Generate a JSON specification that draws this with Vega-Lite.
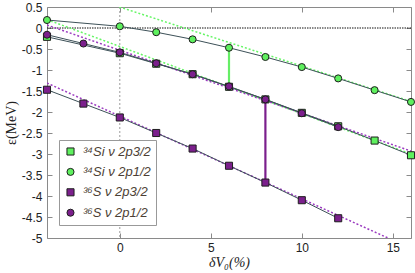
{
  "$schema": "https://vega.github.io/schema/vega-lite/v6.json",
  "width": 364,
  "height": 231,
  "autosize": {"type": "none"},
  "padding": {"left": 47, "top": 7, "right": 4, "bottom": 35},
  "background": "white",
  "config": {
    "view": {"stroke": "#8a8a8a", "strokeWidth": 1},
    "axis": {
      "labelFont": "Liberation Sans",
      "labelFontSize": 12,
      "labelColor": "#222222",
      "titleFont": "Liberation Serif",
      "titleFontSize": 14,
      "titleFontWeight": "normal",
      "titleColor": "#222222",
      "domain": false,
      "grid": false,
      "tickColor": "#8a8a8a",
      "tickSize": -5,
      "tickWidth": 1
    }
  },
  "datasets": {
    "pts": [
      {"series": "³⁴Si ν 2p3/2", "x": -4, "y": -0.21},
      {"series": "³⁴Si ν 2p3/2", "x": 0, "y": -0.6},
      {"series": "³⁴Si ν 2p3/2", "x": 2, "y": -0.85},
      {"series": "³⁴Si ν 2p3/2", "x": 4, "y": -1.1},
      {"series": "³⁴Si ν 2p3/2", "x": 6, "y": -1.4},
      {"series": "³⁴Si ν 2p3/2", "x": 8, "y": -1.7},
      {"series": "³⁴Si ν 2p3/2", "x": 10, "y": -2.02},
      {"series": "³⁴Si ν 2p3/2", "x": 12, "y": -2.34},
      {"series": "³⁴Si ν 2p3/2", "x": 14, "y": -2.68},
      {"series": "³⁴Si ν 2p3/2", "x": 16, "y": -3.03},
      {"series": "³⁴Si ν 2p1/2", "x": -4, "y": 0.19},
      {"series": "³⁴Si ν 2p1/2", "x": 0, "y": 0.04},
      {"series": "³⁴Si ν 2p1/2", "x": 2, "y": -0.1},
      {"series": "³⁴Si ν 2p1/2", "x": 4, "y": -0.27},
      {"series": "³⁴Si ν 2p1/2", "x": 6, "y": -0.47},
      {"series": "³⁴Si ν 2p1/2", "x": 8, "y": -0.69},
      {"series": "³⁴Si ν 2p1/2", "x": 10, "y": -0.93},
      {"series": "³⁴Si ν 2p1/2", "x": 12, "y": -1.2},
      {"series": "³⁴Si ν 2p1/2", "x": 14, "y": -1.48},
      {"series": "³⁴Si ν 2p1/2", "x": 16, "y": -1.76},
      {"series": "³⁶S ν 2p3/2", "x": -4, "y": -1.47},
      {"series": "³⁶S ν 2p3/2", "x": -2, "y": -1.8},
      {"series": "³⁶S ν 2p3/2", "x": 0, "y": -2.13},
      {"series": "³⁶S ν 2p3/2", "x": 2, "y": -2.5},
      {"series": "³⁶S ν 2p3/2", "x": 4, "y": -2.87},
      {"series": "³⁶S ν 2p3/2", "x": 6, "y": -3.28},
      {"series": "³⁶S ν 2p3/2", "x": 8, "y": -3.68},
      {"series": "³⁶S ν 2p3/2", "x": 10, "y": -4.1},
      {"series": "³⁶S ν 2p3/2", "x": 12, "y": -4.53},
      {"series": "³⁶S ν 2p1/2", "x": -4, "y": -0.16},
      {"series": "³⁶S ν 2p1/2", "x": -2, "y": -0.37},
      {"series": "³⁶S ν 2p1/2", "x": 0, "y": -0.58},
      {"series": "³⁶S ν 2p1/2", "x": 2, "y": -0.84},
      {"series": "³⁶S ν 2p1/2", "x": 4, "y": -1.1},
      {"series": "³⁶S ν 2p1/2", "x": 6, "y": -1.39},
      {"series": "³⁶S ν 2p1/2", "x": 8, "y": -1.7},
      {"series": "³⁶S ν 2p1/2", "x": 10, "y": -2.03},
      {"series": "³⁶S ν 2p1/2", "x": 12, "y": -2.36}
    ],
    "fits": [
      {"nucleus": "Si", "series": "³⁴Si ν 2p1/2", "x": -4, "y": 1.06},
      {"nucleus": "Si", "series": "³⁴Si ν 2p1/2", "x": 16, "y": -1.75},
      {"nucleus": "Si", "series": "³⁴Si ν 2p3/2", "x": -4, "y": 0.2},
      {"nucleus": "Si", "series": "³⁴Si ν 2p3/2", "x": 16, "y": -3.0},
      {"nucleus": "S", "series": "³⁶S ν 2p1/2", "x": -4, "y": 0.07},
      {"nucleus": "S", "series": "³⁶S ν 2p1/2", "x": 16, "y": -2.93},
      {"nucleus": "S", "series": "³⁶S ν 2p3/2", "x": -4, "y": -1.31},
      {"nucleus": "S", "series": "³⁶S ν 2p3/2", "x": 16, "y": -5.25}
    ],
    "gaps": [
      {"nucleus": "Si", "x": 6, "y": -0.47, "y2": -1.4},
      {"nucleus": "S", "x": 8, "y": -1.7, "y2": -3.68}
    ],
    "vref": [{"x": 0}],
    "href": [{"y": 0}]
  },
  "layer": [
    {
      "data": {"name": "vref"},
      "mark": {"type": "rule", "color": "#9a9a9a", "strokeWidth": 1, "strokeDash": [2, 2]},
      "encoding": {
        "x": {"field": "x", "type": "quantitative", "scale": {"domain": [-4, 16], "nice": false, "zero": false}, "axis": null}
      }
    },
    {
      "data": {"name": "href"},
      "mark": {"type": "rule", "color": "#111111", "strokeWidth": 1, "strokeDash": [1.5, 1]},
      "encoding": {
        "y": {"field": "y", "type": "quantitative", "scale": {"domain": [-5, 0.5], "nice": false, "zero": false}, "axis": null}
      }
    },
    {
      "data": {"name": "fits"},
      "transform": [{"filter": "datum.nucleus == 'Si'"}],
      "mark": {"type": "line", "clip": true, "strokeWidth": 1.5, "strokeDash": [2, 2], "color": "#66f566"},
      "encoding": {
        "x": {"field": "x", "type": "quantitative", "axis": null},
        "y": {"field": "y", "type": "quantitative", "axis": null},
        "detail": {"field": "series"}
      }
    },
    {
      "data": {"name": "fits"},
      "transform": [{"filter": "datum.nucleus == 'S'"}],
      "mark": {"type": "line", "clip": true, "strokeWidth": 1.5, "strokeDash": [2, 2], "color": "#9b3cc0"},
      "encoding": {
        "x": {"field": "x", "type": "quantitative", "axis": null},
        "y": {"field": "y", "type": "quantitative", "axis": null},
        "detail": {"field": "series"}
      }
    },
    {
      "data": {"name": "pts"},
      "mark": {"type": "line", "color": "#3d5158", "strokeWidth": 1},
      "encoding": {
        "x": {"field": "x", "type": "quantitative", "axis": null},
        "y": {"field": "y", "type": "quantitative", "axis": null},
        "detail": {"field": "series"}
      }
    },
    {
      "data": {"name": "gaps"},
      "transform": [{"filter": "datum.nucleus == 'Si'"}],
      "mark": {"type": "rule", "strokeWidth": 2.2, "color": "#66ee66"},
      "encoding": {
        "x": {"field": "x", "type": "quantitative",
          "axis": {"orient": "top", "labels": false, "title": null, "values": [0, 5, 10, 15]}},
        "y": {"field": "y", "type": "quantitative",
          "axis": {"orient": "right", "labels": false, "title": null, "values": [0.5, 0, -0.5, -1, -1.5, -2, -2.5, -3, -3.5, -4, -4.5, -5]}},
        "y2": {"field": "y2"}
      }
    },
    {
      "data": {"name": "gaps"},
      "transform": [{"filter": "datum.nucleus == 'S'"}],
      "mark": {"type": "rule", "strokeWidth": 2.2, "color": "#7b1f8c"},
      "encoding": {
        "x": {"field": "x", "type": "quantitative", "axis": null},
        "y": {"field": "y", "type": "quantitative", "axis": null},
        "y2": {"field": "y2"}
      }
    },
    {
      "data": {"name": "pts"},
      "mark": {"type": "point", "filled": true, "opacity": 1, "size": 50, "stroke": "#1e1e1e", "strokeWidth": 1},
      "encoding": {
        "x": {"field": "x", "type": "quantitative",
          "axis": {"orient": "bottom", "title": "δV₀(%)", "titleFontStyle": "italic", "values": [0, 5, 10, 15], "labelExpr": "'' + datum.value", "labelPadding": 9, "titlePadding": 2}},
        "y": {"field": "y", "type": "quantitative",
          "axis": {"orient": "left", "title": "ε(MeV)", "values": [0.5, 0, -0.5, -1, -1.5, -2, -2.5, -3, -3.5, -4, -4.5, -5], "labelExpr": "'' + datum.value", "labelPadding": 10, "titlePadding": 3}},
        "fill": {"field": "series", "type": "nominal",
          "scale": {"domain": ["³⁴Si ν 2p3/2", "³⁴Si ν 2p1/2", "³⁶S ν 2p3/2", "³⁶S ν 2p1/2"],
                    "range": ["#5ef05e", "#5ef05e", "#7b1f8c", "#7b1f8c"]},
          "legend": {
            "orient": "none", "legendX": 12, "legendY": 133, "title": null,
            "labelFont": "Liberation Sans", "labelFontStyle": "italic", "labelFontSize": 13, "labelColor": "#4d3f35",
            "symbolSize": 50, "symbolStrokeColor": "#3a4a50", "symbolStrokeWidth": 1, "symbolOpacity": 1,
            "padding": 5, "rowPadding": 6.4, "labelOffset": 6,
            "strokeColor": "#999999", "fillColor": "white"
          }},
        "shape": {"field": "series", "type": "nominal",
          "scale": {"domain": ["³⁴Si ν 2p3/2", "³⁴Si ν 2p1/2", "³⁶S ν 2p3/2", "³⁶S ν 2p1/2"],
                    "range": ["square", "circle", "square", "circle"]}}
      }
    }
  ],
  "resolve": {"axis": {"x": "independent", "y": "independent"}}
}
